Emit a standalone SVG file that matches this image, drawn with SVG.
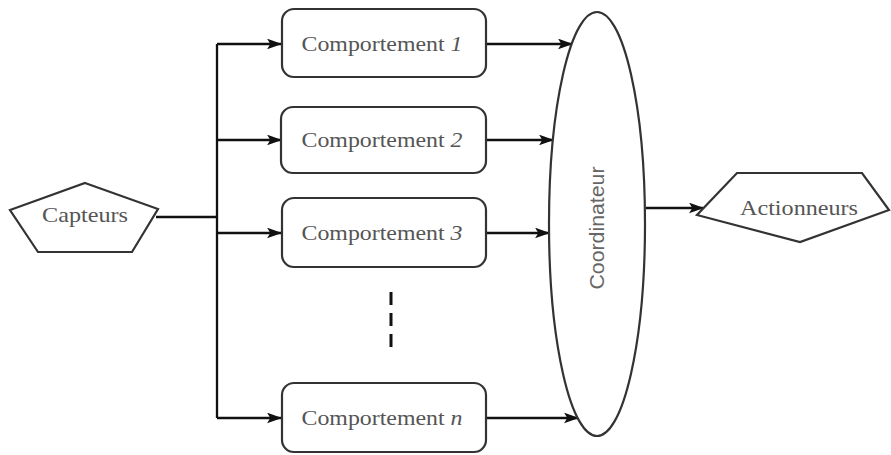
<svg xmlns="http://www.w3.org/2000/svg" width="891" height="455" viewBox="0 0 891 455">
<style>
.shape{fill:#fff;stroke:#333;stroke-width:2.2}
.line{fill:none;stroke:#111;stroke-width:2.3}
.lbl{font-family:"Liberation Serif","Times New Roman",serif;font-size:22px;fill:#555;text-anchor:middle}
.sans{font-family:"Liberation Sans",Arial,sans-serif;font-size:20px;fill:#666;text-anchor:middle}
.it{font-style:italic}
</style>
<defs>
<marker id="arr" viewBox="0 0 14 10" refX="13" refY="5" markerWidth="15" markerHeight="11" markerUnits="userSpaceOnUse" orient="auto">
<path d="M0,0 L14,5 L0,10 L3,5 Z" fill="#111"/>
</marker>
</defs>
<rect width="891" height="455" fill="#fff"/>
<g id="connectors">
<polyline class="line" points="156,217 217,217"/>
<line class="line" x1="217" y1="44" x2="217" y2="418"/>
<line class="line" x1="217" y1="44" x2="281" y2="44" marker-end="url(#arr)"/>
<line class="line" x1="217" y1="140" x2="281" y2="140" marker-end="url(#arr)"/>
<line class="line" x1="217" y1="233" x2="281" y2="233" marker-end="url(#arr)"/>
<line class="line" x1="217" y1="418" x2="281" y2="418" marker-end="url(#arr)"/>
<line class="line" x1="486" y1="44" x2="572" y2="44" marker-end="url(#arr)"/>
<line class="line" x1="486" y1="140" x2="553" y2="140" marker-end="url(#arr)"/>
<line class="line" x1="486" y1="233" x2="549" y2="233" marker-end="url(#arr)"/>
<line class="line" x1="486" y1="418" x2="578" y2="418" marker-end="url(#arr)"/>
<line class="line" x1="646" y1="208" x2="703" y2="208" marker-end="url(#arr)"/>
<line x1="391" y1="292" x2="391" y2="348" stroke="#111" stroke-width="3" stroke-dasharray="13,8"/>
</g>
<g id="capteurs">
<polygon class="shape" points="85,183 158,209 132,252 38,252 10,210"/>
<text class="lbl" x="85" y="222" textLength="86" lengthAdjust="spacingAndGlyphs">Capteurs</text>
</g>
<g id="comp1">
<rect class="shape" x="282" y="9" width="204" height="68" rx="12"/>
<text class="lbl" x="382" y="51" textLength="161" lengthAdjust="spacingAndGlyphs">Comportement <tspan class="it">1</tspan></text>
</g>
<g id="comp2">
<rect class="shape" x="281" y="107" width="205" height="66" rx="12"/>
<text class="lbl" x="382" y="147" textLength="161" lengthAdjust="spacingAndGlyphs">Comportement <tspan class="it">2</tspan></text>
</g>
<g id="comp3">
<rect class="shape" x="282" y="198" width="204" height="69" rx="12"/>
<text class="lbl" x="382" y="240" textLength="161" lengthAdjust="spacingAndGlyphs">Comportement <tspan class="it">3</tspan></text>
</g>
<g id="compn">
<rect class="shape" x="282" y="383" width="204" height="69" rx="12"/>
<text class="lbl" x="382" y="425" textLength="161" lengthAdjust="spacingAndGlyphs">Comportement <tspan class="it">n</tspan></text>
</g>
<g id="coordinateur">
<ellipse class="shape" cx="597" cy="224" rx="48" ry="212"/>
<text class="sans" transform="translate(604,228) rotate(-90)" textLength="123" lengthAdjust="spacingAndGlyphs">Coordinateur</text>
</g>
<g id="actionneurs">
<polygon class="shape" points="737,173 862,173 889,210 800,242 697,215"/>
<text class="lbl" x="799" y="215" textLength="118" lengthAdjust="spacingAndGlyphs">Actionneurs</text>
</g>
</svg>
